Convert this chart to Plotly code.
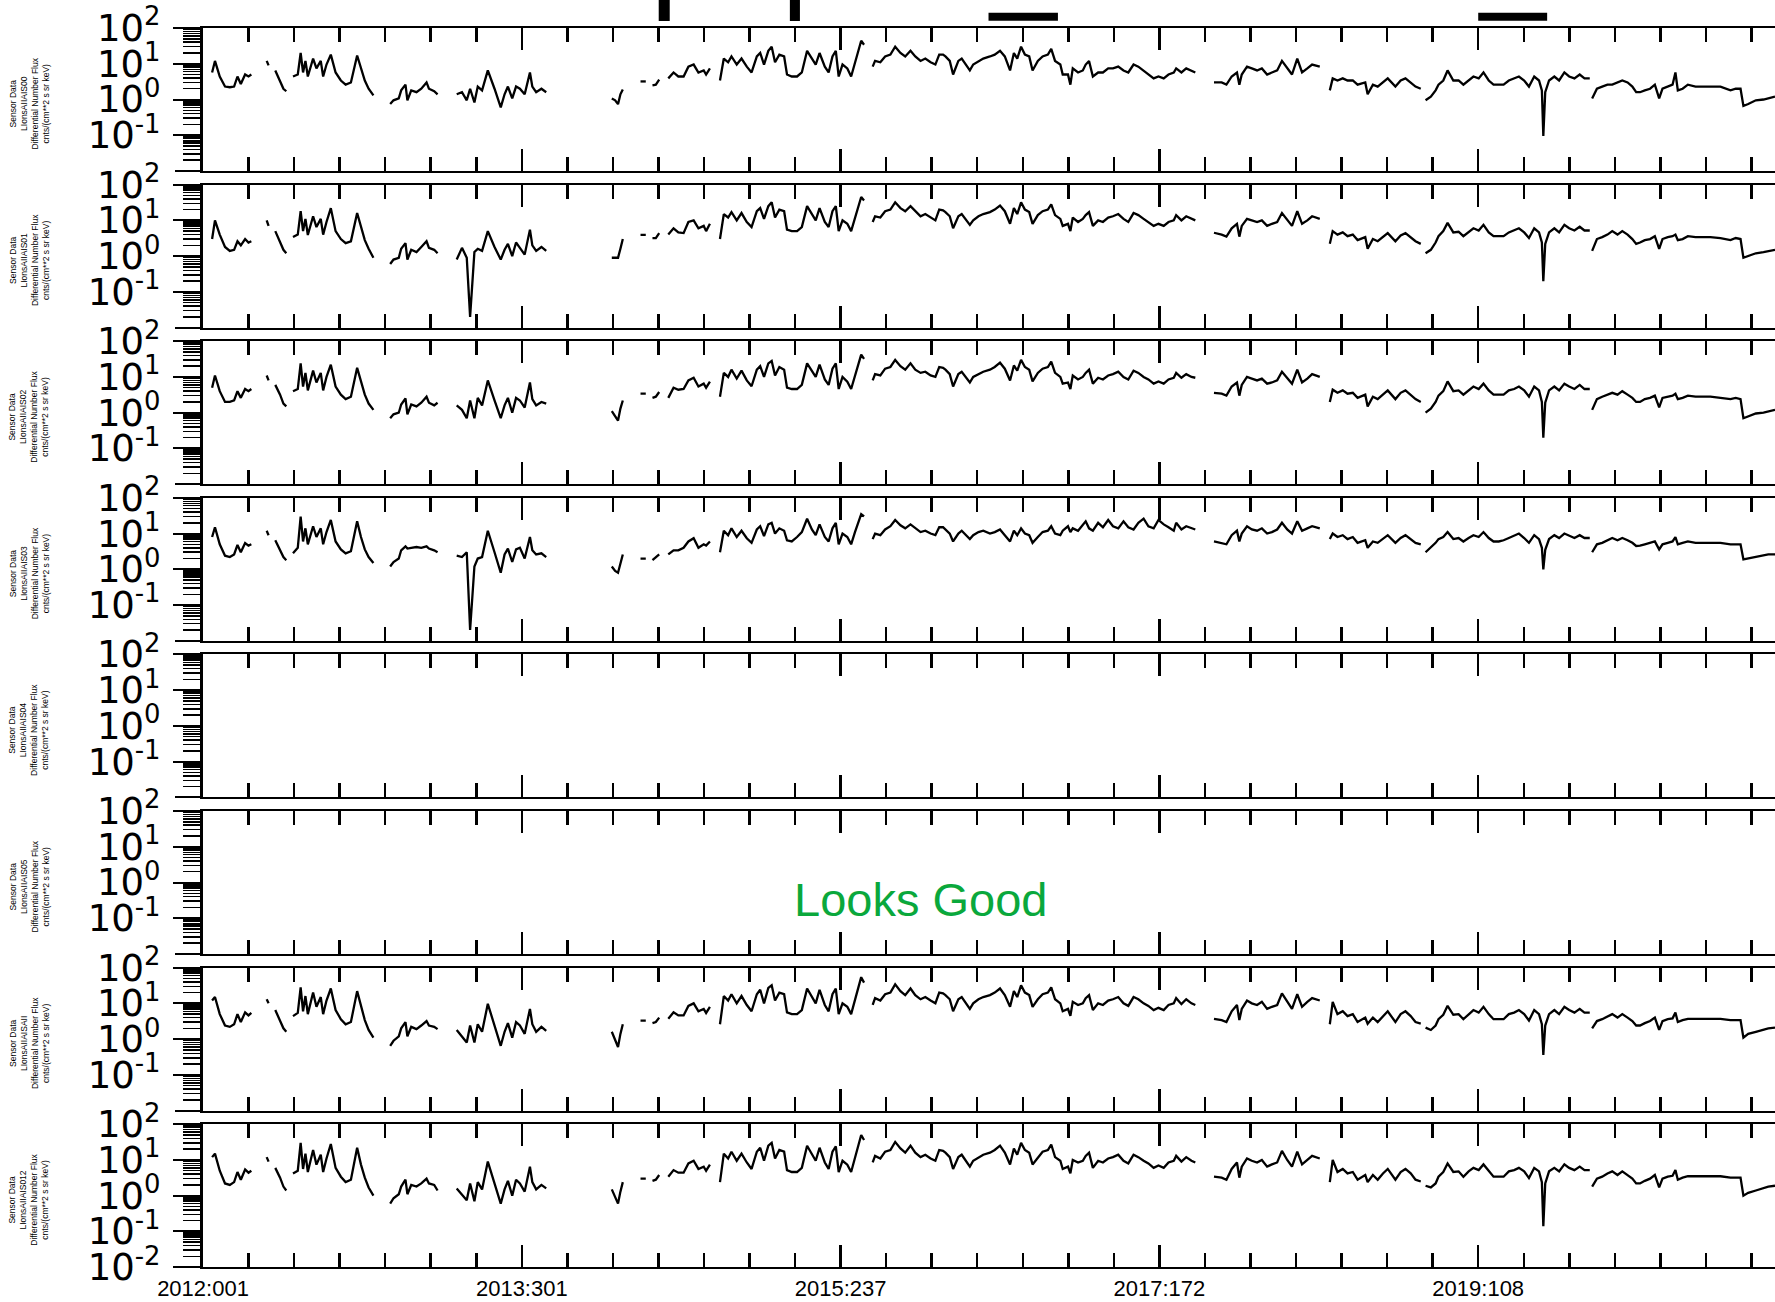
import plotly.graph_objects as go

# ---------------- data ----------------
MAJOR_TICK_DAYS = [0, 666, 1332, 1998, 2664]          # days since 2012:001
MAJOR_TICK_LABELS = ["2012:001", "2013:301", "2015:237", "2017:172", "2019:108"]
MINOR_PER_MAJOR = 7
X_RANGE_DAYS = [0, 3284]

Y_TICK_VALUES = [0.1, 1, 10, 100]
Y_TICK_LABELS = ["10<sup>-1</sup>", "10<sup>0</sup>", "10<sup>1</sup>", "10<sup>2</sup>"]
Y_BOTTOM_VALUE = 0.01
Y_BOTTOM_LABEL = "10<sup>-2</sup>"

PANEL_NAMES = ["LIonsAIIAIS00", "LIonsAIIAIS01", "LIonsAIIAIS02", "LIonsAIIAIS03",
               "LIonsAIIAIS04", "LIonsAIIAIS05", "LIonsAIIAISAII", "LIonsAIIAIS012"]

EVENT_START = [952, 1226, 1641, 2664]
EVENT_END = [975, 1247, 1786, 2808]
EVENT_KIND = ["tall", "tall", "flat", "flat"]

STATUS_TEXT = "Looks Good"
STATUS_PANEL = 6

SEG_DAYS = [
    [19, 25, 35, 46, 56, 65, 72, 79, 88, 95, 101],
    [133, 137],
    [151, 161, 168, 174],
    [188, 198, 204, 209, 214, 219, 230, 237, 246, 251, 258, 267, 277, 288, 298, 309, 322, 330, 338, 346, 356],
    [391, 398, 409, 414, 423, 427, 435, 446, 456, 467, 472, 483, 490],
    [530, 541, 551, 558, 567, 574, 583, 595, 609, 622, 630, 637, 646, 654, 662, 672, 683, 688, 696, 707, 717],
    [854, 861, 867, 872, 877],
    [914, 925],
    [939, 946, 953],
    [972, 983, 993, 1004, 1014, 1025, 1035, 1046, 1051, 1059],
    [1080, 1088, 1097, 1104, 1115, 1125, 1136, 1146, 1157, 1164, 1172, 1181, 1188, 1195, 1204, 1214, 1220,
     1230, 1241, 1251, 1262, 1272, 1280, 1288, 1299, 1307, 1315, 1322, 1328, 1336, 1346, 1354, 1362, 1367,
     1375, 1381],
    [1399, 1404, 1415, 1425, 1436, 1446, 1457, 1467, 1478, 1488, 1499, 1509, 1520, 1530, 1538, 1546, 1551,
     1560, 1567, 1578, 1585, 1594, 1602, 1609, 1620, 1630,
     1644, 1654, 1665, 1675, 1686, 1694, 1701, 1709, 1717, 1726, 1733, 1744, 1754, 1765, 1772, 1780, 1791,
     1796, 1807, 1812, 1817, 1828, 1838, 1844, 1851, 1859, 1870, 1880, 1891, 1901, 1912, 1923, 1933, 1944,
     1954, 1965, 1975, 1986, 1996, 2007, 2017, 2028, 2033, 2044, 2054, 2065, 2073],
    [2112, 2128, 2138, 2149, 2160, 2165, 2170, 2181, 2191, 2202, 2212, 2223, 2233, 2244, 2254, 2265, 2275,
     2286, 2296, 2307, 2317, 2333],
    [2354, 2360, 2370, 2381, 2391, 2402, 2412, 2428, 2433, 2444, 2454, 2465, 2475, 2491, 2502, 2512, 2523,
     2533, 2544],
    [2554, 2565, 2575, 2581, 2591, 2600, 2612, 2623, 2633, 2644, 2654, 2665, 2675, 2686, 2696, 2707, 2717,
     2728, 2739, 2749, 2760, 2770, 2781, 2791, 2797, 2800, 2804, 2812, 2823, 2833, 2844, 2854, 2865, 2876,
     2886, 2897],
    [2902, 2912, 2923, 2934, 2944, 2955, 2965, 2976, 2986, 2994, 3002, 3012, 3023, 3033, 3042, 3049, 3060,
     3070, 3076, 3081, 3091, 3102, 3118, 3128, 3149, 3170, 3191, 3202, 3212, 3218, 3228, 3244, 3260, 3270,
     3284],
]

FLUX_S00 = [
    [5.7, 12, 4.4, 2.3, 2.2, 2.3, 4.4, 2.7, 5.0, 4.4, 5.0],
    [12, 9],
    [6.5, 3.4, 2.0, 1.7],
    [4.4, 5.0, 20, 5.7, 12, 4.4, 14, 7.4, 12, 4.4, 9.5, 18, 5.7, 3.4, 2.6, 3.0, 17, 7.4, 3.4, 2.0, 1.3],
    [0.75, 0.95, 1.07, 1.8, 2.6, 0.95, 1.8, 1.6, 2.0, 3.0, 2.0, 1.7, 1.4],
    [1.4, 1.6, 0.95, 2.0, 0.83, 2.3, 1.8, 6.5, 2.0, 0.6, 1.4, 2.3, 1.07, 2.3, 2.0, 1.4, 5.7, 2.3, 1.6, 2.0, 1.6],
    [1.07, 0.95, 0.74, 1.4, 1.9],
    [3.2, 3.2],
    [2.5, 2.6, 3.6],
    [3.9, 5.7, 4.4, 4.4, 8.3, 9.5, 5.7, 6.5, 5.0, 7.4],
    [3.4, 14, 11, 16, 9.5, 14, 8.3, 5.7, 16, 20, 9.5, 23, 30, 11, 18, 16, 5.0, 4.4, 4.4, 5.7, 23, 14, 9.5,
     20, 8.3, 5.7, 16, 23, 4.4, 9.5, 7.4, 4.4, 11, 18, 44, 34],
    [8.3, 12, 11, 16, 18, 30, 20, 16, 23, 16, 12, 14, 11, 9.5, 18, 18, 16, 12, 5.0, 12, 14, 9.5, 6.5, 9.5, 12, 14,
     16, 18, 23, 16, 6.5, 20, 14, 30, 18, 16, 6.5, 12, 16, 18, 26, 12, 9.5, 5.0, 5.0, 2.6, 7.4, 5.7, 6.5, 9.5,
     12, 4.4, 5.7, 5.7, 7.4, 7.4, 8.3, 6.5, 5.7, 9.5, 8.3, 6.5, 5.0, 3.9, 4.4, 3.9, 5.0, 5.7, 7.4, 5.7, 7.4,
     6.5, 5.7],
    [3.0, 3.0, 2.6, 4.4, 5.7, 2.6, 5.0, 8.3, 7.4, 6.5, 7.4, 5.0, 5.7, 6.5, 12, 7.4, 5.0, 14, 5.7, 7.4, 9.5, 8.3],
    [1.8, 3.9, 3.4, 3.9, 3.4, 3.4, 2.6, 3.0, 1.4, 2.6, 2.3, 3.0, 3.9, 2.3, 3.4, 3.9, 3.0, 2.3, 2.0],
    [0.95, 1.2, 1.8, 2.6, 3.4, 6.5, 3.4, 3.4, 2.6, 3.4, 4.4, 3.9, 5.7, 3.4, 2.6, 2.6, 2.6, 3.4, 3.9, 4.4, 3.4,
     2.3, 4.4, 3.4, 1.8, 0.095, 1.6, 3.4, 4.4, 3.4, 5.7, 4.4, 3.9, 5.0, 3.9, 3.9],
    [1.07, 2.0, 2.3, 2.6, 2.6, 3.0, 3.4, 3.0, 2.3, 1.6, 1.6, 1.8, 2.0, 2.6, 1.07, 2.0, 2.3, 2.6, 5.7, 1.8, 2.0,
     2.6, 2.3, 2.3, 2.3, 2.3, 1.8, 2.0, 2.0, 0.66, 0.75, 0.95, 1.0, 1.1, 1.2],
]

FLUX_S01 = [
    [3.0, 10, 4.0, 1.8, 1.4, 1.5, 2.6, 2.0, 3.0, 2.4, 2.6],
    [10, 7],
    [5.0, 2.6, 1.5, 1.2],
    [3.4, 4.0, 18, 5.0, 11, 3.9, 13, 6.5, 11, 4.0, 9.0, 22, 5.0, 3.0, 2.3, 2.6, 16, 6.5, 2.8, 1.6, 0.9],
    [0.6, 0.8, 0.9, 1.6, 2.3, 0.8, 1.5, 1.3, 1.8, 2.6, 1.7, 1.5, 1.2],
    [0.8, 1.7, 0.9, 0.02, 1.3, 1.6, 1.4, 5.0, 1.8, 0.8, 1.5, 2.2, 1.0, 2.4, 1.7, 1.1, 5.5, 2.0, 1.4, 1.8, 1.4],
    [0.9, 0.9, 0.9, 1.6, 3.0],
    [3.9, 3.9],
    [3.2, 3.2, 4.4],
    [4.0, 6.0, 4.6, 4.4, 9.0, 10, 6.0, 7.0, 5.0, 8.0],
    [3.0, 15, 12, 17, 10, 16, 9, 6.5, 18, 22, 11, 25, 32, 12, 20, 18, 5.5, 5.0, 5.0, 6.5, 25, 15, 10, 22, 9,
     6.5, 18, 25, 5.0, 10, 8, 5.0, 12, 20, 45, 36],
    [9, 13, 12, 18, 20, 32, 22, 18, 25, 18, 13, 15, 12, 10, 20, 19, 17, 13, 6, 13, 15, 10, 7.5, 10, 13, 15,
     17, 20, 26, 18, 8, 22, 15, 32, 20, 17, 8, 14, 18, 20, 28, 14, 11, 7, 8, 5, 12, 9, 11, 14, 17, 7, 10, 9,
     12, 13, 15, 11, 9, 16, 14, 11, 9, 7, 8, 7, 9, 10, 14, 10, 13, 11, 10],
    [4.5, 4.0, 3.5, 6.0, 8.0, 3.5, 7.0, 11, 10, 9, 10, 7, 8, 9, 16, 10, 7, 18, 8, 10, 13, 11],
    [2.2, 5.0, 4.0, 4.6, 3.6, 4.0, 2.8, 3.4, 1.6, 3.0, 2.6, 3.4, 4.4, 2.6, 3.8, 4.4, 3.4, 2.6, 2.2],
    [1.2, 1.5, 2.4, 3.6, 5.0, 8.5, 4.6, 4.8, 3.6, 4.6, 6.0, 5.2, 7.5, 4.6, 3.6, 3.6, 3.6, 4.6, 5.2, 6.0, 4.6,
     3.2, 6.0, 4.6, 2.4, 0.2, 2.2, 4.6, 6.0, 4.6, 7.5, 6.0, 5.2, 6.6, 5.2, 5.2],
    [1.4, 3.0, 3.4, 4.0, 5.0, 4.0, 5.0, 4.0, 3.0, 2.2, 2.4, 2.8, 3.0, 3.6, 1.6, 3.0, 3.4, 3.6, 4.0, 2.8, 3.0,
     3.6, 3.4, 3.4, 3.4, 3.2, 2.8, 3.2, 3.0, 0.9, 1.0, 1.2, 1.3, 1.4, 1.5],
]

FLUX_S02 = [
    [5.0, 11, 4.0, 2.0, 2.0, 2.2, 4.0, 2.6, 4.6, 4.0, 4.6],
    [11, 8],
    [6.0, 3.2, 1.8, 1.5],
    [4.0, 4.6, 24, 5.4, 13, 4.2, 15, 7.0, 13, 4.2, 10, 22, 5.4, 3.2, 2.4, 2.8, 18, 7.0, 3.2, 1.8, 1.2],
    [0.7, 0.9, 1.0, 1.7, 2.5, 0.9, 1.7, 1.5, 1.9, 2.8, 1.9, 1.6, 1.9],
    [1.6, 1.2, 0.7, 2.2, 0.7, 2.6, 1.6, 8.0, 2.2, 0.7, 1.6, 2.6, 1.0, 2.6, 2.2, 1.4, 7.0, 2.4, 1.6, 2.0, 1.8],
    [1.1, 0.8, 0.6, 1.3, 2.2],
    [3.4, 3.4],
    [2.6, 2.8, 3.8],
    [2.6, 5.0, 4.4, 4.6, 8.0, 9.5, 5.4, 6.5, 5.0, 7.4],
    [2.8, 13, 10, 16, 9, 15, 8, 5.5, 16, 20, 10, 24, 28, 11, 19, 16, 5.0, 4.6, 4.6, 6.0, 24, 14, 10, 22, 8.5,
     6.0, 17, 24, 4.6, 10, 7.4, 4.6, 11, 18, 42, 32],
    [8, 12, 11, 17, 19, 30, 20, 16, 24, 16, 13, 14, 11, 10, 19, 18, 16, 12, 5.4, 12, 14, 10, 7, 10, 12, 14,
     16, 19, 25, 17, 8, 21, 15, 30, 19, 16, 7.5, 13, 17, 19, 27, 13, 10, 6.5, 7, 4.6, 11, 8.5, 10, 13, 16,
     6.5, 9.5, 8.5, 11, 12, 14, 10, 8.5, 15, 13, 10, 8.5, 6.5, 7.5, 6.5, 8.5, 9.5, 13, 9.5, 12, 10, 9.5],
    [3.6, 3.4, 3.0, 5.4, 7.0, 3.0, 6.0, 10, 9, 8, 9, 6.5, 7, 8, 14, 9, 6.5, 16, 7, 9, 12, 10],
    [2.0, 4.4, 3.6, 4.2, 3.4, 3.6, 2.6, 3.2, 1.5, 2.8, 2.4, 3.2, 4.2, 2.4, 3.6, 4.2, 3.2, 2.4, 2.0],
    [1.0, 1.3, 2.0, 3.0, 4.0, 7.5, 4.0, 4.2, 3.2, 4.2, 5.4, 4.6, 6.5, 4.2, 3.2, 3.2, 3.2, 4.2, 4.6, 5.4, 4.2,
     2.8, 5.4, 4.2, 2.0, 0.2, 1.9, 4.2, 5.4, 4.2, 6.5, 5.4, 4.6, 6.0, 4.6, 4.6],
    [1.2, 2.4, 2.8, 3.2, 3.6, 3.2, 4.0, 3.2, 2.6, 2.0, 2.0, 2.4, 2.6, 3.0, 1.4, 2.6, 2.8, 3.0, 3.4, 2.4, 2.6,
     3.0, 2.8, 2.8, 2.8, 2.6, 2.4, 2.6, 2.4, 0.7, 0.8, 0.95, 1.0, 1.1, 1.2],
]

FLUX_S03 = [
    [8, 15, 5.0, 2.4, 2.2, 2.6, 4.8, 3.0, 5.4, 4.6, 5.0],
    [12, 9],
    [6.5, 3.4, 2.2, 1.8],
    [2.8, 4.0, 30, 6.0, 14, 5.0, 16, 8, 14, 5.0, 11, 24, 6.0, 3.6, 2.8, 3.2, 22, 8, 3.6, 2.2, 1.5],
    [1.2, 1.6, 2.0, 3.4, 4.4, 3.8, 4.0, 4.2, 4.0, 4.4, 3.8, 3.4, 3.0],
    [2.4, 2.2, 3.0, 0.02, 1.2, 2.0, 2.2, 12, 3.0, 0.8, 2.6, 3.8, 1.6, 3.6, 4.0, 2.0, 8.0, 3.4, 2.6, 2.8, 2.2],
    [1.2, 0.9, 0.8, 1.6, 2.6],
    [2.0, 2.0],
    [1.8, 2.2, 2.6],
    [2.6, 3.4, 3.4, 4.0, 6.0, 7.4, 4.0, 5.0, 4.6, 6.0],
    [3.0, 12, 9, 14, 8, 12, 7.4, 5.5, 13, 16, 8.5, 18, 20, 10, 14, 12, 6.5, 6.0, 8.0, 11, 26, 13, 9, 18, 8,
     6.0, 14, 20, 5.0, 10, 8, 5.0, 11, 18, 35, 30],
    [7, 10, 9, 13, 16, 24, 17, 14, 18, 14, 11, 12, 10, 9, 15, 15, 13, 10, 6, 10, 12, 9, 7, 9, 11, 12,
     10, 11, 13, 9, 6, 12, 9, 14, 10, 9, 5.5, 8, 11, 12, 16, 10, 9, 12, 16, 11, 14, 12, 18, 22, 14, 12, 20,
     15, 24, 16, 14, 22, 15, 13, 20, 26, 16, 14, 24, 18, 15, 12, 20, 13, 16, 14, 13],
    [6.0, 5.5, 5.0, 9, 12, 6.0, 10, 16, 13, 12, 14, 10, 11, 13, 20, 13, 10, 22, 12, 14, 16, 14],
    [7, 10, 8, 9, 7, 8, 5.5, 6.5, 4, 6, 5.5, 7, 9, 5.5, 7.5, 9, 7, 5.5, 5],
    [3.0, 4.0, 5.5, 7, 8, 11, 7, 7.5, 6, 7.5, 9, 8, 11, 7.5, 6, 6, 6.5, 7.5, 8.5, 10, 7.5, 5.5, 9, 7, 4, 1.0,
     3.5, 7, 9, 7.5, 10, 8.5, 7.5, 9, 7.5, 7.5],
    [3.0, 5.0, 5.5, 6.5, 7.5, 6.5, 7.5, 6.5, 5.5, 4.5, 4.6, 5.0, 5.5, 6.0, 3.6, 5.0, 5.5, 6.0, 8, 5.0, 5.5,
     6.0, 5.5, 5.5, 5.5, 5.5, 5.0, 5.0, 5.0, 1.9, 2.0, 2.2, 2.4, 2.6, 2.6],
]

FLUX_S04 = []
FLUX_S05 = []

FLUX_SAII = [
    [12, 15, 5.0, 2.4, 2.2, 2.6, 5.0, 3.0, 5.6, 4.6, 5.4],
    [13, 10],
    [6.5, 3.4, 2.0, 1.6],
    [4.4, 5.4, 28, 6.0, 16, 5.0, 20, 8, 15, 5.0, 12, 26, 6.5, 3.6, 2.6, 3.0, 22, 8, 3.4, 1.8, 1.1],
    [0.65, 0.9, 1.2, 2.0, 3.0, 1.2, 2.2, 1.9, 2.4, 3.2, 2.4, 2.2, 1.9],
    [1.8, 1.2, 0.8, 2.4, 0.8, 2.6, 1.6, 9.7, 2.4, 0.65, 1.6, 2.8, 1.1, 3.0, 2.4, 1.4, 7.0, 2.6, 1.6, 2.2, 1.7],
    [1.6, 1.0, 0.6, 1.4, 2.6],
    [3.3, 3.3],
    [2.8, 3.0, 4.0],
    [3.7, 5.6, 4.6, 4.6, 8.5, 10, 6.0, 7.0, 5.4, 8.0],
    [2.6, 16, 12, 18, 10, 16, 9, 6.0, 18, 24, 10, 27, 32, 12, 20, 18, 5.6, 5.0, 5.0, 6.5, 26, 16, 10, 24, 9,
     6.0, 18, 26, 5.0, 10, 8, 5.0, 12, 20, 54, 38],
    [9, 14, 12, 18, 20, 34, 22, 17, 26, 17, 13, 15, 12, 10, 20, 19, 17, 13, 6, 13, 15, 10, 7, 10, 13, 15,
     17, 20, 26, 17, 8, 22, 15, 32, 20, 17, 8, 13, 18, 20, 28, 13, 10, 6, 7, 4.5, 11, 9, 10, 14, 17, 6.5, 10,
     9, 12, 13, 15, 10, 8.5, 15, 13, 10, 8.5, 6.5, 7.5, 6.5, 9, 10, 14, 9.5, 13, 10, 9],
    [3.7, 3.4, 3.0, 6, 9, 3.4, 7, 12, 10, 9, 11, 7, 8, 9, 19, 11, 7, 18, 8, 11, 14, 12],
    [2.6, 11, 5, 6, 4.4, 5, 3, 4, 2.7, 4, 3, 4.4, 6, 3, 5, 6, 4.4, 3, 2.7],
    [2.1, 1.8, 2.4, 3.6, 4.8, 8.5, 4.8, 5, 3.6, 5, 6.5, 5.5, 8, 5, 3.6, 3.6, 3.6, 5, 5.5, 6.5, 5, 3.3, 6.5,
     5, 2.6, 0.36, 2.4, 5, 6.5, 5, 8, 6.5, 5.5, 7, 5.5, 5.5],
    [2.0, 3.2, 3.6, 4.4, 5.0, 4.0, 5.0, 4.0, 3.2, 2.4, 2.4, 2.8, 3.2, 4.0, 1.8, 3.2, 3.6, 3.8, 5.5, 3.0, 3.4,
     3.7, 3.7, 3.7, 3.7, 3.7, 3.4, 3.4, 3.4, 1.1, 1.4, 1.6, 1.8, 2.0, 2.1],
]

FLUX_S012 = [
    [12, 15, 5.0, 2.2, 2.0, 2.4, 4.6, 2.8, 5.4, 4.4, 5.0],
    [12, 9],
    [6.0, 3.2, 1.8, 1.4],
    [4.2, 5.0, 30, 5.6, 15, 4.6, 19, 7.4, 14, 4.6, 11, 28, 6.0, 3.4, 2.4, 2.8, 22, 7.4, 3.2, 1.7, 1.0],
    [0.6, 0.85, 1.1, 1.8, 2.8, 1.1, 2.0, 1.8, 2.2, 3.0, 2.2, 2.0, 1.4],
    [1.6, 1.1, 0.75, 2.2, 0.7, 2.4, 1.5, 9.0, 2.2, 0.6, 1.5, 2.6, 1.0, 2.8, 2.2, 1.3, 6.5, 2.4, 1.5, 2.0, 1.6],
    [1.5, 0.9, 0.6, 1.3, 2.4],
    [3.0, 3.0],
    [2.6, 2.8, 3.8],
    [3.4, 5.2, 4.4, 4.4, 8, 9.5, 5.6, 6.5, 5.0, 7.4],
    [2.4, 15, 11, 17, 9.5, 15, 8.5, 5.6, 17, 22, 9.5, 25, 30, 11, 19, 17, 5.2, 4.6, 4.6, 6.0, 25, 15, 9.5,
     22, 8.5, 5.6, 17, 24, 4.6, 9.5, 7.4, 4.6, 11, 19, 50, 36],
    [8.5, 13, 11, 17, 19, 32, 21, 16, 25, 16, 12, 14, 11, 9.5, 19, 18, 16, 12, 5.6, 12, 14, 9.5, 6.5, 9.5, 12,
     14, 16, 19, 25, 16, 7.5, 21, 14, 30, 19, 16, 7.5, 12, 17, 19, 27, 12, 9.5, 5.6, 6.5, 4.2, 10, 8.5, 9.5,
     13, 16, 6, 9.5, 8.5, 11, 12, 14, 9.5, 8, 14, 12, 9.5, 8, 6, 7, 6, 8.5, 9.5, 13, 9, 12, 9.5, 8.5],
    [3.4, 3.2, 2.8, 5.6, 8.5, 3.2, 6.5, 11, 9.5, 8.5, 10, 6.5, 7.5, 8.5, 18, 10, 6.5, 17, 7.5, 10, 13, 11],
    [2.4, 10, 4.6, 5.6, 4.2, 4.6, 2.8, 3.8, 2.4, 3.8, 2.8, 4.2, 5.6, 2.8, 4.6, 5.6, 4.2, 2.8, 2.5],
    [1.9, 1.7, 2.2, 3.4, 4.6, 8, 4.6, 4.8, 3.4, 4.8, 6, 5.2, 7.5, 4.8, 3.4, 3.4, 3.4, 4.8, 5.2, 6, 4.8, 3.1,
     6, 4.8, 2.4, 0.14, 2.2, 4.8, 6, 4.8, 7.5, 6, 5.2, 6.5, 5.2, 5.2],
    [1.8, 3.0, 3.4, 4.2, 4.8, 3.8, 4.8, 3.8, 3.0, 2.2, 2.2, 2.6, 3.0, 3.8, 1.7, 3.0, 3.4, 3.6, 5.2, 2.8, 3.2,
     3.5, 3.5, 3.5, 3.5, 3.5, 3.2, 3.2, 3.2, 1.0, 1.2, 1.4, 1.6, 1.8, 1.9],
]

PANEL_SERIES = [FLUX_S00, FLUX_S01, FLUX_S02, FLUX_S03, FLUX_S04, FLUX_S05, FLUX_SAII, FLUX_S012]

# ---------------- layout constants ----------------
W, H = 1775, 1302
REF_L, REF_T, REF_B = 203, 28, 1268  # plot-area edges in page pixels
M_L, M_T, M_B, M_R = REF_L, REF_T, H - REF_B, 0
PLOT_H = H - M_T - M_B
PLOT_W = W - M_L - M_R
PANEL_H = 143
PITCH = 156.6
FONT = "Liberation Sans, Arial, Helvetica, sans-serif"
TICK_FONT = "DejaVu Sans, Verdana, sans-serif"
NARROW = "Liberation Sans Narrow, Arial Narrow, Liberation Sans, sans-serif"
GREEN = "#0aa83c"
N_PANELS = 8


def flatten(seg_days, seg_vals):
    xs, ys = [], []
    for d, v in zip(seg_days, seg_vals):
        n = min(len(d), len(v))
        xs += list(d[:n]) + [None]
        ys += list(v[:n]) + [None]
    return xs, ys


def px_to_paper_x(px):
    return (px - REF_L) / PLOT_W


def px_to_paper_y(py):
    return (REF_B - py) / PLOT_H


step = MAJOR_TICK_DAYS[1] - MAJOR_TICK_DAYS[0]
minor_x = []
k = 1
while k * step / MINOR_PER_MAJOR <= X_RANGE_DAYS[1]:
    if k % MINOR_PER_MAJOR != 0:
        minor_x.append(k * step / MINOR_PER_MAJOR)
    k += 1

minor_y = [m * 10.0 ** e for e in range(-2, 2) for m in range(2, 10)]

fig = go.Figure()
layout = dict(
    width=W, height=H,
    margin=dict(l=M_L, r=M_R, t=M_T, b=M_B, pad=0),
    plot_bgcolor="white", paper_bgcolor="white",
    showlegend=False,
    font=dict(family=FONT, color="black"),
    annotations=[], shapes=[],
)

for i in range(N_PANELS):
    top_px = REF_T + i * PITCH
    bot_px = top_px + PANEL_H
    d0 = max(0.0, px_to_paper_y(bot_px))
    d1 = min(1.0, px_to_paper_y(top_px))
    xname = "xaxis" if i == 0 else f"xaxis{i + 1}"
    yname = "yaxis" if i == 0 else f"yaxis{i + 1}"
    xa = dict(
        domain=[0, 1], anchor=f"y{i + 1}", range=X_RANGE_DAYS,
        showline=True, linecolor="black", linewidth=2, mirror="ticks",
        ticks="inside", ticklen=22, tickwidth=2.5, tickcolor="black",
        tickmode="array", tickvals=MAJOR_TICK_DAYS, ticktext=MAJOR_TICK_LABELS,
        showticklabels=(i == N_PANELS - 1), tickfont=dict(size=22, family=FONT, color="black"),
        showgrid=False, zeroline=False, automargin=False, fixedrange=True,
        minor=dict(tickmode="array", tickvals=minor_x, ticks="inside", ticklen=14,
                   tickwidth=2.5, tickcolor="black", showgrid=False),
    )
    if i > 0:
        xa["matches"] = "x"
    last = (i == N_PANELS - 1)
    tv = ([Y_BOTTOM_VALUE] if last else []) + Y_TICK_VALUES
    tt = ([Y_BOTTOM_LABEL] if last else []) + Y_TICK_LABELS
    ya = dict(
        domain=[d0, d1], anchor=f"x{i + 1}", type="log", range=[-2, 2],
        showline=True, linecolor="black", linewidth=3, mirror=False,
        ticks="outside", ticklen=27, tickwidth=2, tickcolor="black",
        tickmode="array", tickvals=tv, ticktext=tt,
        tickfont=dict(size=37, family=TICK_FONT, color="black"),
        ticklabelstandoff=5, ticklabeloverflow="allow",
        showgrid=False, zeroline=False, automargin=False, fixedrange=True,
        minor=dict(tickmode="array", tickvals=minor_y, ticks="outside", ticklen=17,
                   tickwidth=1.5, tickcolor="black", showgrid=False),
    )
    layout[xname] = xa
    layout[yname] = ya

    series = PANEL_SERIES[i]
    if series:
        xs, ys = flatten(SEG_DAYS, series)
    else:
        xs, ys = [None], [None]
    fig.add_trace(go.Scatter(
        x=xs, y=ys, mode="lines", xaxis=f"x{i + 1}", yaxis=f"y{i + 1}",
        line=dict(color="black", width=2.3), connectgaps=False, hoverinfo="skip",
    ))

    # unlabeled bottom major tick (10^-2) for the upper panels
    if not last:
        oid = N_PANELS + 1 + i
        layout[f"yaxis{oid}"] = dict(
            domain=[d0, d1], anchor=f"x{i + 1}", overlaying=f"y{i + 1}", side="left",
            type="log", range=[-2, 2], showline=False,
            ticks="outside", ticklen=27, tickwidth=2, tickcolor="black",
            tickmode="array", tickvals=[Y_BOTTOM_VALUE], showticklabels=False,
            showgrid=False, zeroline=False, automargin=False, fixedrange=True,
        )
        fig.add_trace(go.Scatter(x=[None], y=[None], mode="lines", xaxis=f"x{i + 1}",
                                 yaxis=f"y{oid}", hoverinfo="skip"))

    layout["annotations"].append(dict(
        xref="paper", yref="paper", x=px_to_paper_x(29),
        y=px_to_paper_y(top_px + PANEL_H / 2 + 4),
        xanchor="center", yanchor="middle", textangle=-90, showarrow=False,
        text=f"Sensor Data<br>{PANEL_NAMES[i]}<br>Differential Number Flux<br>cnts/(cm**2 s sr keV)",
        font=dict(size=8.5, family=NARROW, color="black"), align="center",
    ))

# status text inside its panel
layout["annotations"].append(dict(
    xref="paper", yref="paper", x=px_to_paper_x(920), y=px_to_paper_y(899),
    xanchor="center", yanchor="middle", showarrow=False, text=STATUS_TEXT,
    font=dict(size=47, family=FONT, color=GREEN),
))

# event bars above the top panel
for s, e, kind in zip(EVENT_START, EVENT_END, EVENT_KIND):
    if kind == "tall":
        y0, y1 = px_to_paper_y(21), px_to_paper_y(0)
    else:
        y0, y1 = px_to_paper_y(20.7), px_to_paper_y(12.7)
    layout["shapes"].append(dict(
        type="rect", xref="x", yref="paper", x0=s, x1=e, y0=y0, y1=y1,
        fillcolor="black", line=dict(width=0), layer="above",
    ))

fig.update_layout(**layout)
fig.write_html("out.html", config={"displayModeBar": False, "staticPlot": True},
               post_script="document.body.style.margin='0px';")
